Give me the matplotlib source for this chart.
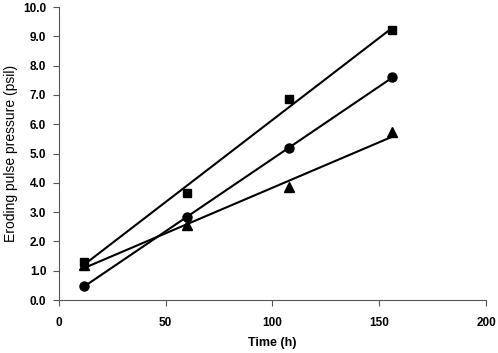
import numpy as np
import matplotlib
matplotlib.use('Agg')
import matplotlib.pyplot as plt
from matplotlib.ticker import FormatStrFormatter

time_h = [12, 60, 108, 156]
squares = [1.3, 3.65, 6.85, 9.2]
circles = [0.48, 2.83, 5.2, 7.6]
triangles = [1.19, 2.56, 3.86, 5.73]

plt.rcParams['font.family'] = ['Liberation Sans', 'DejaVu Sans']

fig = plt.figure(figsize=(4.98, 3.53), dpi=100)
ax = fig.add_axes([0.118, 0.150, 0.858, 0.830])

x = np.array(time_h)
for vals, mk, ms in [(squares, 's', 5.8), (circles, 'o', 6.5), (triangles, '^', 7)]:
    ax.plot(time_h, vals, linestyle='none', marker=mk, color='black', markersize=ms)
    # linear trendline
    k, b = np.polyfit(x, vals, 1)
    ax.plot(x, k * x + b, color='black', linewidth=1.5)

ax.set_xlim(0, 200)
ax.set_ylim(0, 10)
ax.set_xticks([0, 50, 100, 150, 200])
ax.set_yticks(np.arange(0, 10.5, 1.0))
ax.yaxis.set_major_formatter(FormatStrFormatter('%.1f'))
ax.spines['top'].set_visible(False)
ax.spines['right'].set_visible(False)
ax.spines['left'].set_color('#555555')
ax.spines['bottom'].set_color('#555555')
ax.tick_params(direction='out', length=4, color='#555555', labelsize=8.5)
ax.tick_params(axis='x', pad=8)
ax.tick_params(axis='y', pad=5)
for lbl in ax.get_xticklabels() + ax.get_yticklabels():
    lbl.set_fontweight('bold')
ax.set_xlabel('Time (h)', fontsize=9, fontweight='bold', labelpad=6)
ax.set_ylabel('Eroding pulse pressure (psil)', fontsize=10, labelpad=4)

fig.savefig('out.png', dpi=100)
